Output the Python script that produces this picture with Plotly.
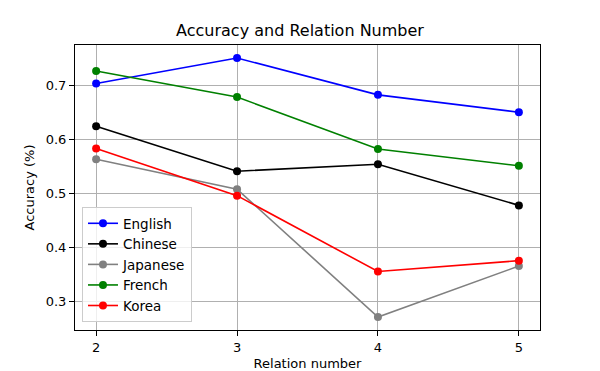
import plotly.graph_objects as go

relation_numbers = [2, 3, 4, 5]
english = [0.703, 0.750, 0.682, 0.650]
chinese = [0.624, 0.541, 0.554, 0.478]
japanese = [0.563, 0.508, 0.272, 0.366]
french = [0.726, 0.678, 0.582, 0.551]
korea = [0.583, 0.496, 0.356, 0.376]

series = [
    ("English", english, "blue"),
    ("Chinese", chinese, "black"),
    ("Japanese", japanese, "gray"),
    ("French", french, "green"),
    ("Korea", korea, "red"),
]

font_family = "DejaVu Sans"
fig = go.Figure()
for name, vals, color in series:
    fig.add_trace(go.Scatter(
        x=relation_numbers, y=vals, name=name, mode="lines+markers",
        line=dict(color=color, width=1.6),
        marker=dict(color=color, size=8),
    ))

fig.update_layout(
    width=600, height=371,
    margin=dict(l=75, r=60, t=45, b=41),
    paper_bgcolor="white", plot_bgcolor="white",
    font=dict(family=font_family, size=13, color="black"),
    title=dict(text="Accuracy and Relation Number", x=0.5, xanchor="center",
               y=1 - 30 / 371, yanchor="middle",
               font=dict(size=16, family=font_family)),
    legend=dict(x=0.015, y=0.028, xanchor="left", yanchor="bottom",
                bgcolor="rgba(255,255,255,0.8)", bordercolor="#cccccc",
                borderwidth=1, font=dict(size=13.5), tracegroupgap=0),
    showlegend=True,
)
fig.update_xaxes(
    range=[1.85, 5.15], tickvals=relation_numbers, ticktext=[str(v) for v in relation_numbers],
    showgrid=True, gridcolor="#b0b0b0", gridwidth=1,
    showline=True, linecolor="black", linewidth=1, mirror=True,
    ticks="outside", ticklen=5, tickcolor="black", zeroline=False,
    automargin=False,
    title=dict(text="Relation number", font=dict(size=13), standoff=7),
)
fig.update_yaxes(
    range=[0.248, 0.774], tickvals=[0.3, 0.4, 0.5, 0.6, 0.7],
    ticktext=["0.3", "0.4", "0.5", "0.6", "0.7"],
    showgrid=True, gridcolor="#b0b0b0", gridwidth=1,
    showline=True, linecolor="black", linewidth=1, mirror=True,
    ticks="outside", ticklen=5, tickcolor="black", zeroline=False,
    automargin=False,
    title=dict(text="Accuracy (%)", font=dict(size=13), standoff=8),
)
fig.write_html("out.html", config={"displayModeBar": False},
               post_script="document.body.style.margin='0';document.body.style.overflow='hidden';")
